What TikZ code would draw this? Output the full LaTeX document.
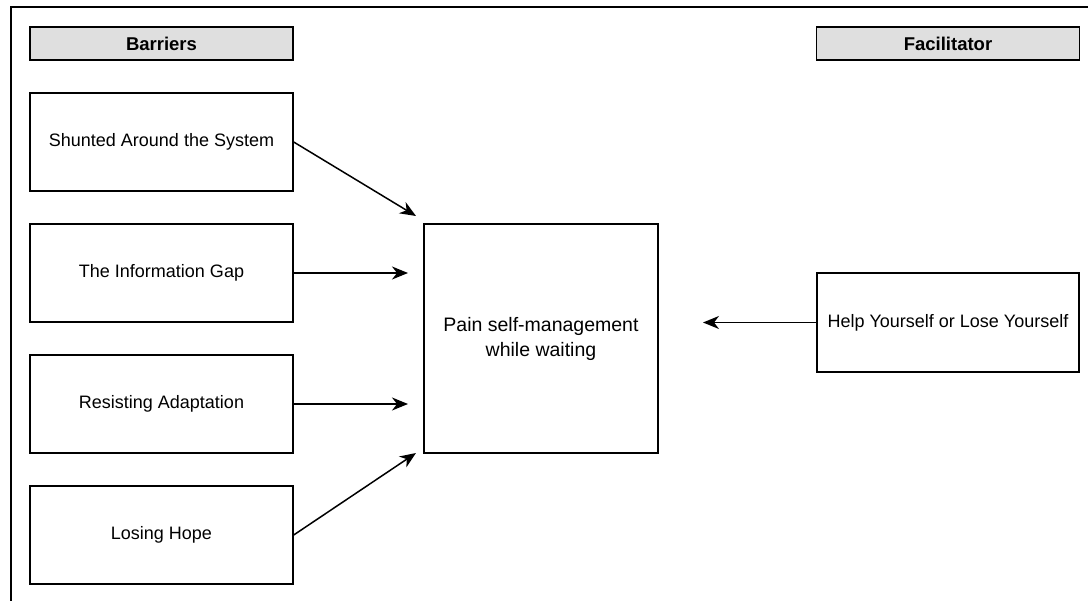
\documentclass[tikz,border=0pt]{standalone}
\usepackage{fontspec}
\setmainfont{Liberation Sans}
\usetikzlibrary{arrows.meta}
\begin{document}
\begin{tikzpicture}[x=1pt, y=-1pt,
    header/.style={draw, line width=1.4pt, fill=gray!25, minimum width=263pt, minimum height=33pt, inner sep=0pt, font=\fontsize{18.5}{22}\selectfont\bfseries},
    themebox/.style={draw, line width=1.4pt, fill=white, minimum width=263pt, minimum height=98pt, inner sep=0pt, font=\fontsize{18}{22}\selectfont},
    arr/.style={line width=1.5pt, -{Stealth[length=16pt, width=13pt, inset=5pt]}}]
    \useasboundingbox (0,0) rectangle (1088,601);
    % Draw the frame (top and left only)
    \draw[line width=1.3pt] (1088,7) -- (11,7) -- (11,601);
    
    % Column headers
    \node[header] (barriers) at (161.5,43.5) {Barriers};
    \node[header] (facilitator) at (948,43.5) {Facilitator};
    
    % Barrier themes
    \node[themebox] (shunted) at (161.5,142) {Shunted Around the System};
    \node[themebox] (infogap) at (161.5,273) {The Information Gap};
    \node[themebox] (resisting) at (161.5,404) {Resisting Adaptation};
    \node[themebox] (hope) at (161.5,535) {Losing Hope};
    
    % Central outcome
    \node[draw, line width=1.4pt, minimum width=234pt, minimum height=229pt, align=center,
          font=\fontsize{19.5}{25}\selectfont] (pain) at (541,338.5) {Pain self-management\\while waiting};
    
    % Facilitator theme
    \node[themebox, minimum width=262pt, minimum height=99pt] (help) at (948,322.5) {Help Yourself or Lose Yourself};
    
    % Arrow ends (arrows stop short of the boxes)
    \coordinate (tipA) at (416,216);
    \coordinate (tipB) at (408,273);
    \coordinate (tipC) at (408,404);
    \coordinate (tipD) at (416,453);
    \coordinate (tipE) at (703,322.5);
    
    % Arrows into the central box
    \draw[arr] (shunted.east) -- (tipA);
    \draw[arr] (infogap.east) -- (tipB);
    \draw[arr] (resisting.east) -- (tipC);
    \draw[arr] (hope.east) -- (tipD);
    \draw[arr] (help.west) -- (tipE);
\end{tikzpicture}
\end{document}
